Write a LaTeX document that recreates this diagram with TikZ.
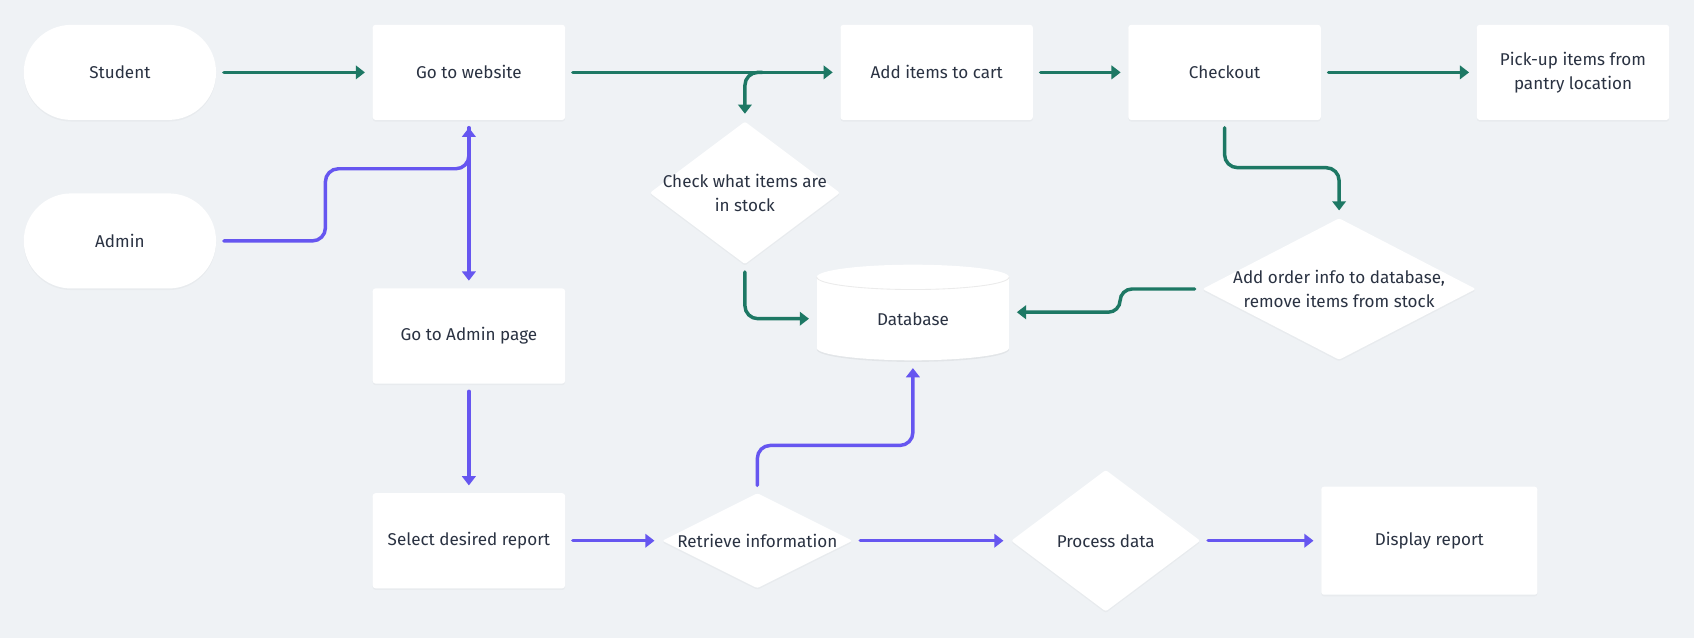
\documentclass[tikz,border=0pt]{standalone}
\usepackage{fontspec}
\setmainfont{Fira Sans}
\usetikzlibrary{arrows.meta}
\usetikzlibrary{shapes.geometric}
\usetikzlibrary{shadows}
\definecolor{bgcol}{RGB}{239,242,245}
\definecolor{flowgreen}{RGB}{29,120,100}
\definecolor{flowpurple}{RGB}{102,86,240}
\definecolor{labelcol}{RGB}{42,50,66}
\tikzset{
  lbl/.style={text=labelcol, font=\fontsize{15.8}{22}\selectfont, align=center},
  card/.style={lbl, fill=white,
    drop shadow={shadow xshift=0pt, shadow yshift=-1.5pt, opacity=0.06}},
  procbox/.style={card, rectangle, rounded corners=2.5pt, minimum width=178pt, minimum height=88pt},
  pill/.style={card, rectangle, rounded corners=44pt, minimum width=178pt, minimum height=88pt},
  decision/.style 2 args={card, diamond, rounded corners=2pt, inner sep=0pt, minimum width=#1, minimum height=#2},
  flowg/.style={draw=flowgreen, line width=3.2pt, line cap=round, -{Triangle[length=8.5pt,width=12.5pt]}, rounded corners=12pt},
  flowp/.style={flowg, draw=flowpurple},
  gap/.style={shorten <=7pt, shorten >=7pt}
}
\begin{document}
\begin{tikzpicture}[x=1pt, y=-1pt]
  \fill [bgcol] (0,0) rectangle (1568,591);
  \useasboundingbox (0,0) rectangle (1568,591);

  % nodes
  \node [pill] (stu) at (111,67) {Student};
  \node [pill] (admin) at (111,223) {Admin};
  \node [procbox] (web) at (434,67) {Go to website};
  \node [procbox] (add) at (867,67) {Add items to cart};
  \node [procbox] (cout) at (1133.5,67) {Checkout};
  \node [procbox] (pick) at (1456,67) {Pick-up items from\\pantry location};
  \node [procbox] (apage) at (434,311) {Go to Admin page};
  \node [procbox] (sel) at (434,500.5) {Select desired report};
  \node [procbox, minimum width=200pt, minimum height=100pt] (disp) at (1323,500.5) {Display report};

  \node [decision={176pt}{132pt}, label={[lbl]center:{Check what items are\\in stock}}] (chk) at (689.5,178.5) {};
  \node [decision={253pt}{131pt}, label={[lbl]center:{Add order info to database,\\remove items from stock}}] (ord) at (1239.5,267.5) {};
  \node [decision={176pt}{88pt}, label={[lbl]center:{Retrieve information}}] (ret) at (701,500.5) {};
  \node [decision={175pt}{131pt}, label={[lbl]center:{Process data}}] (proc) at (1023.5,500.5) {};

  % database cylinder
  \fill [black, opacity=0.05] (845,323.5) ellipse [x radius=89, y radius=11.5];
  \fill [white] (756,256.5) rectangle (934,322);
  \fill [white] (845,256.5) ellipse [x radius=89, y radius=11.5];
  \fill [white] (845,322) ellipse [x radius=89, y radius=11.5];
  \draw [black!8, line width=0.8pt] (756,256.5) arc [start angle=180, end angle=0, x radius=89, y radius=11.5];
  \node [lbl, minimum width=178pt, minimum height=77pt] (db) at (845,295) {Database};

  % student flow
  \coordinate (fork) at (chk.north |- web.east);
  \draw [flowg, gap] (stu) -- (web);
  \draw [flowg, gap] (web) -- (add);
  \draw [flowg, shorten >=7pt] ([xshift=16pt]fork) -- (fork) -- (chk.north);
  \draw [flowg, gap] (chk.south) |- (db.west);
  \draw [flowg, gap] (add) -- (cout);
  \draw [flowg, gap] (cout) -- (pick);
  \draw [flowg, gap] (cout.south) -- ([yshift=-44pt]cout.south) -| (ord.north);
  \draw [flowg, gap, rounded corners=11pt] (ord.west) -- ([xshift=-76pt]ord.west) |- ([yshift=6pt]db.east);

  % admin flow
  \draw [flowp, gap] (admin.east) -- ([xshift=101pt]admin.east) |- ([yshift=-45pt]web.south) -- (web.south);
  \draw [flowp, gap] (web) -- (apage);
  \draw [flowp, gap] (apage) -- (sel);
  \draw [flowp, gap] (sel) -- (ret);
  \draw [flowp, gap] (ret) -- (proc);
  \draw [flowp, gap] (proc) -- (disp);
  \draw [flowp, gap] (ret.north) -- ([yshift=44pt]ret.north) -| (db.south);
\end{tikzpicture}
\end{document}
